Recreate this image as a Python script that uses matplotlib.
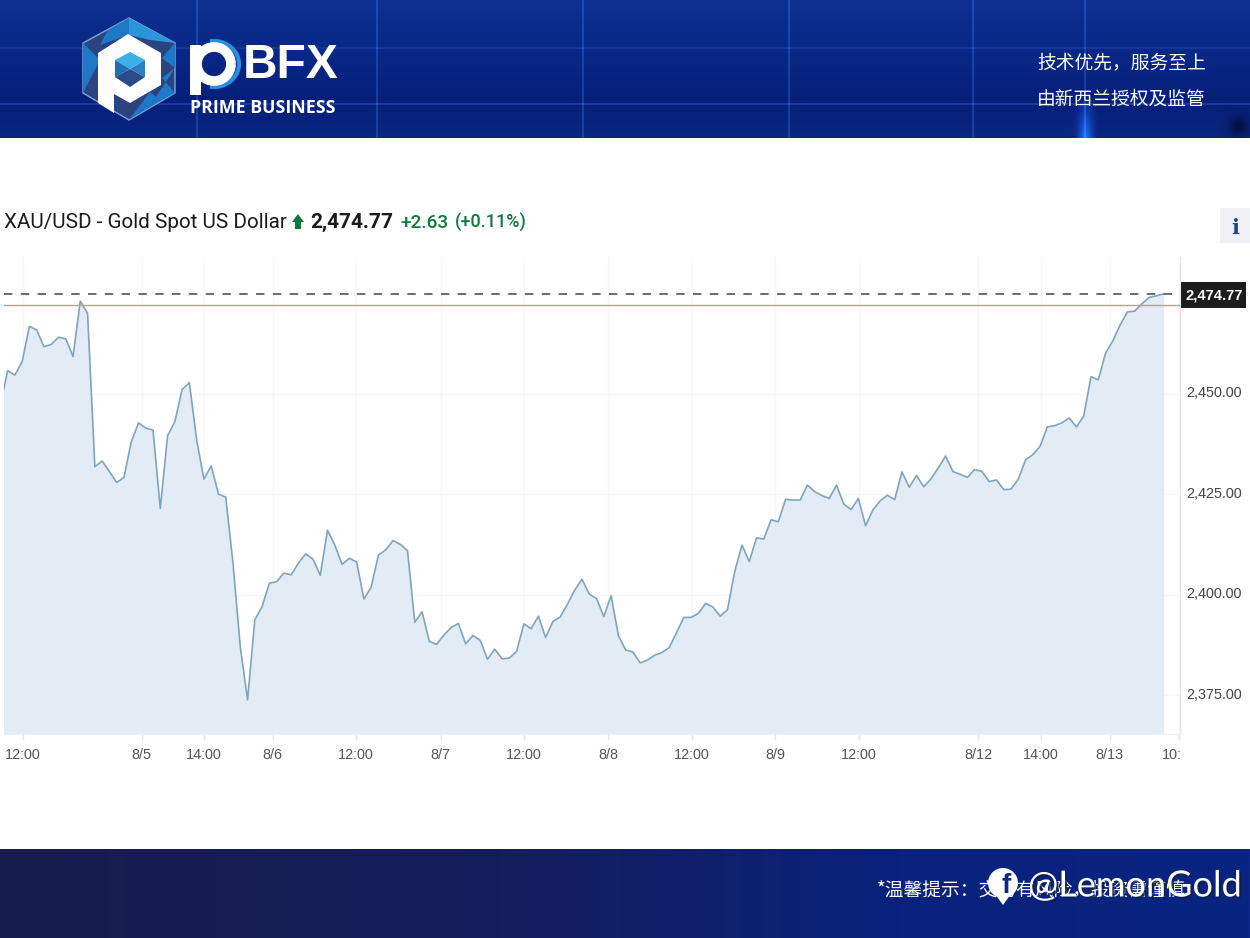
import numpy as np
import matplotlib
matplotlib.use("Agg")
import matplotlib.pyplot as plt
from matplotlib.patches import Polygon, Rectangle, Circle, Arc
from matplotlib.transforms import Bbox, ScaledTranslation
import matplotlib.patheffects as pe

# prices, one per bar of the 1h series
prices = [
    2446.9, 2455.7, 2454.6, 2457.9, 2466.7, 2465.8, 2461.65, 2462.2, 2464.0, 2463.6,
    2459.2, 2473.0, 2469.9, 2431.8, 2433.2, 2430.6, 2427.9, 2429.1, 2437.9, 2442.7,
    2441.4, 2440.9, 2421.4, 2439.5, 2443.0, 2451.0, 2452.7, 2438.4, 2428.7, 2432.0,
    2425.0, 2424.2, 2407.75, 2387.0, 2373.8, 2393.7, 2397.0, 2402.8, 2403.2, 2405.3,
    2404.9, 2407.8, 2410.1, 2408.8, 2404.8, 2416.0, 2412.3, 2407.5, 2409.0, 2408.1,
    2398.9, 2401.8, 2409.8, 2411.1, 2413.4, 2412.5, 2410.9, 2393.1, 2395.7, 2388.35,
    2387.6, 2389.9, 2391.8, 2392.8, 2387.7, 2389.8, 2388.6, 2383.9, 2386.4, 2384.0,
    2384.2, 2385.8, 2392.7, 2391.5, 2394.6, 2389.3, 2393.3, 2394.4, 2397.6, 2401.1,
    2403.8, 2400.1, 2399.0, 2394.5, 2399.7, 2389.8, 2386.2, 2385.7, 2383.0, 2383.7,
    2384.9, 2385.6, 2386.8, 2390.5, 2394.3, 2394.3, 2395.3, 2397.8, 2396.9, 2394.6,
    2396.2, 2405.7, 2412.3, 2408.2, 2414.1, 2413.8, 2418.6, 2418.1, 2423.7, 2423.5,
    2423.5, 2427.2, 2425.6, 2424.6, 2423.9, 2427.2, 2422.5, 2421.1, 2423.9, 2417.1,
    2421.0, 2423.3, 2424.7, 2423.6, 2430.5, 2426.7, 2429.6, 2426.8, 2428.8, 2431.5,
    2434.45, 2430.6, 2429.9, 2429.15, 2431.1, 2430.6, 2428.1, 2428.5, 2426.1, 2426.2,
    2428.7, 2433.5, 2434.8, 2436.9, 2441.7, 2442.0, 2442.7, 2443.9, 2441.7, 2444.4,
    2454.2, 2453.4, 2460.0, 2463.1, 2467.0, 2470.3, 2470.5, 2472.3, 2473.9, 2474.3,
    2474.77,
]
last_price = 2474.77
prev_close = 2472.14

x_tick_pos = [3.08, 19.44, 27.97, 37.46, 48.92, 60.56, 72.0, 83.57, 95.08, 106.58,
              118.1, 134.46, 143.06, 152.55, 162.17]
x_tick_labels = ["12:00", "8/5", "14:00", "8/6", "12:00", "8/7", "12:00", "8/8", "12:00",
                 "8/9", "12:00", "8/12", "14:00", "8/13", "10:00"]
y_ticks = [2375, 2400, 2425, 2450]
y_tick_labels = ["2,375.00", "2,400.00", "2,425.00", "2,450.00"]

W, H = 1250, 938
CJK = ["Noto Sans CJK SC", "DejaVu Sans"]

fig = plt.figure(figsize=(W / 100, H / 100), dpi=100, facecolor="white")

# background layer in pixel coordinates
bg = fig.add_axes([0, 0, 1, 1], zorder=0)

# top banner
yy = np.arange(138)
top = np.zeros((138, W, 3))
top[:, :, 0] = np.interp(yy, [0, 48, 100, 137], [14, 9, 6, 9])[:, None]
top[:, :, 1] = np.interp(yy, [0, 48, 100, 137], [48, 40, 32, 38])[:, None]
top[:, :, 2] = np.interp(yy, [0, 48, 100, 137], [145, 135, 122, 128])[:, None]
for lx in [197, 377, 583, 789, 973, 1085]:
    top[:, lx - 1:lx + 1, :] += np.array([18, 28, 40])
for ly, amt in [(48, 0.35), (104, 0.6)]:
    top[ly - 1:ly + 1, :, :] += np.array([30, 42, 60]) * amt
xx = np.arange(W)
glow = np.exp(-((xx - 1085) / 7.0) ** 2)[None, :] * np.clip((yy - 95) / 43.0, 0, 1)[:, None]
top += glow[:, :, None] * np.array([20, 70, 130])
dark = np.exp(-((xx - 1238) / 10.0) ** 2)[None, :] * np.exp(-((yy - 126) / 10.0) ** 2)[:, None]
top -= dark[:, :, None] * np.array([5, 20, 60])
bg.imshow(np.clip(top, 0, 255).astype(np.uint8), extent=(0, W, 138, 0), aspect="auto", zorder=1)

# bottom banner
bottom = np.zeros((89, W, 3))
bottom[:, :, 0] = np.interp(xx, [0, 500, 900, 1249], [24, 20, 10, 9])
bottom[:, :, 1] = np.interp(xx, [0, 500, 900, 1249], [28, 30, 34, 36])
bottom[:, :, 2] = np.interp(xx, [0, 500, 900, 1249], [78, 92, 124, 130])
bg.imshow(bottom.astype(np.uint8), extent=(0, W, H, 849), aspect="auto", zorder=1)

bg.set_xlim(0, W)
bg.set_ylim(H, 0)
bg.axis("off")

# logo hexagon
hex_out = [(129, 18), (175, 43), (175, 93), (129, 120), (83, 93), (83, 43)]
bg.add_patch(Polygon(hex_out, closed=True, fc="#2b4480", ec="#7fa4dc", lw=1, zorder=2))
facets = [
    ([(129, 18), (175, 43), (150, 40), (129, 35)], "#2a95da"),
    ([(129, 18), (129, 35), (100, 45), (108, 30)], "#1e78c8"),
    ([(83, 43), (100, 60), (83, 93)], "#1e78c8"),
    ([(175, 43), (162, 58), (175, 68)], "#1e78c8"),
    ([(175, 68), (162, 78), (175, 93), (150, 106)], "#1e78c8"),
    ([(150, 92), (129, 120), (160, 100)], "#1e78c8"),
]
for pts, col in facets:
    bg.add_patch(Polygon(pts, closed=True, fc=col, ec="none", zorder=3))
p_shape = [(128, 34), (161, 53), (161, 85), (130, 103), (114, 94), (114, 113), (98, 103), (98, 53)]
bg.add_patch(Polygon(p_shape, closed=True, fc="white", ec="none", zorder=4))
cube = {
    "top": ([(130, 52), (145, 60), (130, 69), (115, 60)], "#3ab0ea"),
    "left": ([(115, 60), (130, 69), (115, 77)], "#1f6fb5"),
    "right": ([(145, 60), (130, 69), (145, 77)], "#2a7fc4"),
    "bottom": ([(115, 77), (130, 69), (145, 77), (130, 87)], "#2a4a8a"),
}
for pts, col in cube.values():
    bg.add_patch(Polygon(pts, closed=True, fc=col, ec="none", zorder=5))

# PBFX wordmark
bg.add_patch(Rectangle((190, 45), 11, 50, fc="white", ec="none", zorder=3))
bg.add_patch(Arc((214, 64), 50, 46, theta1=-100, theta2=100, ec="#2a8ee0", lw=3, zorder=3))
bg.add_patch(Arc((214, 64), 34, 34, theta1=0, theta2=360, ec="white", lw=7, zorder=3))
bg.text(243, 66, "BFX", color="white", fontsize=34.5, family="Liberation Sans", weight="bold",
        va="center", ha="left", zorder=4)
bg.text(190, 108, "PRIME BUSINESS", color="white", fontsize=12.8, family="Open Sans", weight="bold",
        va="center", ha="left", zorder=4)

bg.text(1037, 63, "技术优先，服务至上", color="white", fontsize=13.5, family=CJK, weight="medium", va="center", zorder=4)
bg.text(1037, 99, "由新西兰授权及监管", color="white", fontsize=13.5, family=CJK, weight="medium", va="center", zorder=4)

# title row
bg.text(4, 228, "XAU/USD - Gold Spot US Dollar", color="#1a1a1a", fontsize=14.9, family="Roboto", va="baseline")
bg.add_patch(Polygon([(298, 214), (304, 222), (301, 222), (301, 229), (295, 229), (295, 222), (292, 222)],
                     closed=True, fc="#0b7a3b", ec="none"))
bg.text(310, 228, "2,474.77", color="#1a1a1a", fontsize=15, family="Roboto", weight="bold", va="baseline")
bg.text(400, 228, "+2.63", color="#0b7a3b", fontsize=13.6, family="Roboto", weight="medium", va="baseline")
bg.text(455, 228, "(+0.11%)", color="#0b7a3b", fontsize=13, family="Roboto", weight="medium", va="baseline")

# info button
bg.add_patch(Rectangle((1220, 208), 30, 35, fc="#eef0f3", ec="none"))
bg.text(1235, 228, "i", color="#1a4a80", fontsize=15, family="DejaVu Serif", weight="bold", ha="center", va="center")

# last price tag
bg.add_patch(Rectangle((1180, 282), 66, 26, fc="#1c1c1c", ec="none"))
bg.text(1214, 295, "2,474.77", color="white", fontsize=10.6, family="Liberation Sans", weight="bold",
        ha="center", va="center")

# footer text + watermark
bg.text(877, 891, "*温馨提示：交易有风险，投资需谨慎", color="white", fontsize=13.5, family=CJK, weight="medium", va="center", zorder=4)
bg.add_patch(Circle((1003, 883), 15, fc="white", ec="none", zorder=5))
bg.add_patch(Polygon([(995, 894), (1011, 894), (1003, 905)], closed=True, fc="white", ec="none", zorder=5))
bg.text(1006, 886, "f", color="#0d2a80", fontsize=20, family="Liberation Sans", weight="bold",
        ha="center", va="center", zorder=6)
bg.text(1028, 886, "@LemonGold", color="white", fontsize=26, family="Lato", va="center", zorder=6,
        path_effects=[pe.withSimplePatchShadow(offset=(1.5, -1.5), shadow_rgbFace="#10204a", alpha=0.8)])

# chart
ax = fig.add_axes([4 / W, 1 - 734 / H, (1180 - 4) / W, (734 - 257) / H], zorder=1)
ax.patch.set_alpha(0)
x = np.arange(len(prices))
ax.set_xlim(0.505, 162.24)
ax.set_ylim(2365.3, 2483.96)
ax.grid(True, color="#f5f6f8", lw=1, zorder=0)
ax.set_axisbelow(True)
ax.fill_between(x, prices, 2365.3, color="#dfe9f3", alpha=0.85, lw=0, zorder=1)
ax.plot(x, prices, color="#7fa4bd", lw=1.2, zorder=2)
ax.axhline(last_price, color="#444444", lw=1.1, dashes=(5.5, 5.5), zorder=3)
ax.axhline(prev_close, color="#d98f8f", lw=1, zorder=3)

ax.set_xticks(x_tick_pos)
ax.set_xticklabels(x_tick_labels)
ax.set_yticks(y_ticks)
ax.set_yticklabels(y_tick_labels)
ax.yaxis.tick_right()
ax.tick_params(axis="x", length=4.3, width=1, color="#e4e4e4", pad=5.7, labelsize=10.4, labelcolor="#555555")
ax.tick_params(axis="y", length=0, pad=4.5, labelsize=10.4, labelcolor="#444444")
for lbl in ax.get_xticklabels() + ax.get_yticklabels():
    lbl.set_family("Liberation Sans")
# y labels sit a little above their grid lines
up = ScaledTranslation(0, 2 / 100, fig.dpi_scale_trans)
for lbl in ax.get_yticklabels():
    lbl.set_transform(lbl.get_transform() + up)
# last label gets cut at the plot edge
last_lbl = ax.get_xticklabels()[-1]
last_lbl.set_clip_box(Bbox.from_extents(0, 0, 1180, H))
last_lbl.set_clip_on(True)

for side in ["top", "left"]:
    ax.spines[side].set_visible(False)
ax.spines["bottom"].set_color("#eef0f2")
ax.spines["right"].set_color("#e6e6e6")

fig.savefig("out.png", dpi=100)
